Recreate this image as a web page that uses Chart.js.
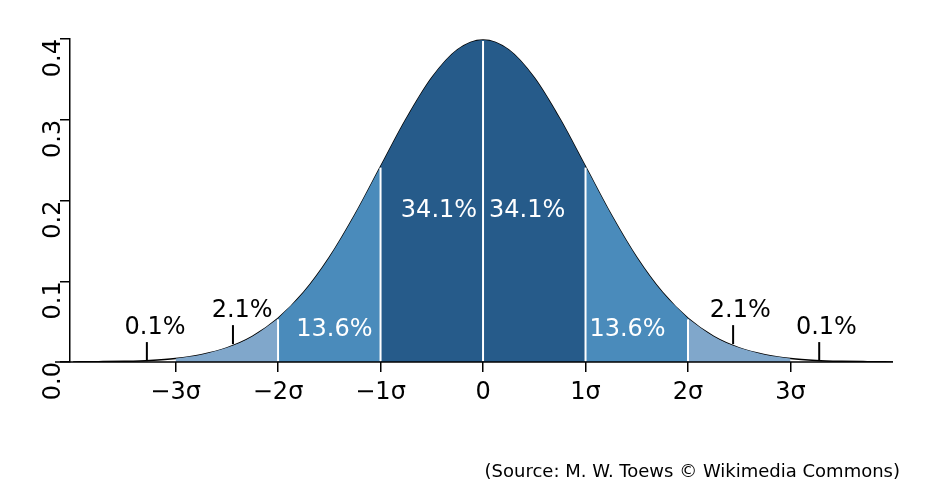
<!DOCTYPE html>
<html>
<head>
<meta charset="utf-8">
<script src="https://cdn.jsdelivr.net/npm/chart.js@4/dist/chart.umd.min.js"></script>
<style>
body { margin: 0; background: #fff; }
#wrap { width: 932px; height: 496px; }
</style>
</head>
<body>
<div id="wrap"><canvas id="c"></canvas></div>
<script>
// x in units of sigma, density
const xValues = [-4, -3.75, -3.5, -3.25, -3, -2.75, -2.5, -2.25, -2, -1.75, -1.5, -1.25, -1, -0.75, -0.5, -0.25, 0,
	0.25, 0.5, 0.75, 1, 1.25, 1.5, 1.75, 2, 2.25, 2.5, 2.75, 3, 3.25, 3.5, 3.75, 4]
const density = [0.0001, 0.0004, 0.0009, 0.002, 0.0044, 0.0091, 0.0175, 0.0317, 0.054, 0.0863, 0.1295, 0.1826, 0.242, 0.3011, 0.3521, 0.3867, 0.3989,
	0.3867, 0.3521, 0.3011, 0.242, 0.1826, 0.1295, 0.0863, 0.054, 0.0317, 0.0175, 0.0091, 0.0044, 0.002, 0.0009, 0.0004, 0.0001]
const yTicks = [0, 0.1, 0.2, 0.3, 0.4]
const xTicks = [-3, -2, -1, 0, 1, 2, 3]
const bands = [
	{ from: -3, to: -2, color: '#80a7cb' },
	{ from: -2, to: -1, color: '#4a8bbb' },
	{ from: -1, to: 1, color: '#265b8a' },
	{ from: 1, to: 2, color: '#4a8bbb' },
	{ from: 2, to: 3, color: '#80a7cb' },
]
const whiteLabels = [
	{ x: -0.43, y: 0.187, text: '34.1%' },
	{ x: 0.43, y: 0.187, text: '34.1%' },
	{ x: -1.45, y: 0.04, text: '13.6%' },
	{ x: 1.41, y: 0.04, text: '13.6%' },
]
const blackLabels = [
	{ x: -2.35, y: 0.063, tick: -2.44, text: '2.1%' },
	{ x: 2.51, y: 0.063, tick: 2.44, text: '2.1%' },
	{ x: -3.20, y: 0.042, tick: -3.28, text: '0.1%' },
	{ x: 3.35, y: 0.042, tick: 3.28, text: '0.1%' },
]

const points = xValues.map((x, i) => ({ x: x, y: density[i] }))
const datasets = bands.map(b => ({
	data: points.filter(p => p.x >= b.from && p.x <= b.to),
	backgroundColor: b.color,
	borderWidth: 0,
	fill: 'origin',
	pointRadius: 0,
	cubicInterpolationMode: 'monotone',
}))
datasets.push({
	data: points,
	borderColor: '#000',
	borderWidth: 1.5,
	fill: false,
	pointRadius: 0,
	cubicInterpolationMode: 'monotone',
})

const font = 'DejaVu Sans'

const overlay = {
	id: 'overlay',
	afterDatasetsDraw(chart) {
		const ctx = chart.ctx
		const xs = chart.scales.x
		const ys = chart.scales.y
		ctx.save()
		// baseline
		ctx.strokeStyle = '#000'
		ctx.lineWidth = 1.5
		ctx.beginPath()
		ctx.moveTo(55, ys.getPixelForValue(0))
		ctx.lineTo(893, ys.getPixelForValue(0))
		ctx.stroke()
		// white separators
		ctx.strokeStyle = '#fff'
		ctx.lineWidth = 2
		;[-2, -1, 0, 1, 2].forEach(v => {
			const i = xValues.indexOf(v)
			const px = xs.getPixelForValue(v)
			ctx.beginPath()
			ctx.moveTo(px, ys.getPixelForValue(0) - 1)
			ctx.lineTo(px, ys.getPixelForValue(density[i]) + 1)
			ctx.stroke()
		})
		ctx.font = '24px "' + font + '"'
		ctx.textAlign = 'center'
		ctx.textBaseline = 'middle'
		ctx.fillStyle = '#fff'
		whiteLabels.forEach(l => ctx.fillText(l.text, xs.getPixelForValue(l.x), ys.getPixelForValue(l.y)))
		ctx.fillStyle = '#000'
		ctx.strokeStyle = '#000'
		ctx.lineWidth = 2
		blackLabels.forEach(l => {
			const py = ys.getPixelForValue(l.y)
			ctx.fillText(l.text, xs.getPixelForValue(l.x), py)
			const tx = xs.getPixelForValue(l.tick)
			ctx.beginPath()
			ctx.moveTo(tx, py + 14)
			ctx.lineTo(tx, py + 33)
			ctx.stroke()
		})
		ctx.font = '18px "' + font + '"'
		ctx.textAlign = 'right'
		ctx.fillText('(Source: M. W. Toews © Wikimedia Commons)', 900, 472)
		ctx.restore()
	},
}

new Chart(document.getElementById('c'), {
	type: 'line',
	data: { datasets: datasets },
	options: {
		responsive: true,
		maintainAspectRatio: false,
		animation: false,
		layout: { padding: { top: 39, right: 39, left: 0, bottom: 0 } },
		plugins: { legend: { display: false }, tooltip: { enabled: false } },
		scales: {
			x: {
				type: 'linear',
				min: -4.03,
				max: 4,
				afterBuildTicks: s => { s.ticks = xTicks.map(v => ({ value: v })) },
				afterFit: s => { s.height = 134 },
				grid: { drawOnChartArea: false, drawTicks: true, tickLength: 10, color: '#000', lineWidth: 1.5 },
				border: { display: false },
				ticks: {
					color: '#000',
					font: { family: font, size: 24 },
					padding: 6,
					maxRotation: 0,
					callback: v => v === 0 ? '0' : (v < 0 ? '\u2212' : '') + Math.abs(v) + 'σ',
				},
			},
			y: {
				min: 0,
				max: 0.4,
				afterBuildTicks: s => { s.ticks = yTicks.map(v => ({ value: v })) },
				afterFit: s => { s.width = 70 },
				grid: { drawOnChartArea: false, drawTicks: true, tickLength: 10, color: '#000', lineWidth: 1.5 },
				border: { display: true, color: '#000', width: 1.5 },
				ticks: {
					color: '#000',
					font: { family: font, size: 24 },
					padding: 6,
					minRotation: 90,
					maxRotation: 90,
					callback: v => v.toFixed(1),
				},
			},
		},
	},
	plugins: [overlay],
})
</script>
</body>
</html>
